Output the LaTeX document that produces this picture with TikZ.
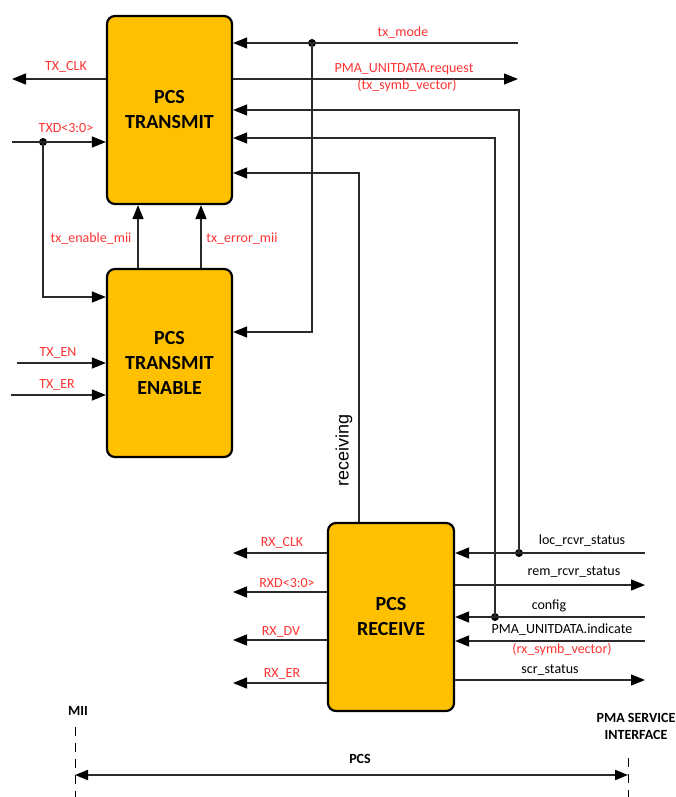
\documentclass[tikz,border=0pt]{standalone}
\usepackage{fontspec}
\setmainfont{Carlito}
\newfontfamily\arialf{Liberation Sans}
\usetikzlibrary{arrows.meta}
\definecolor{boxfill}{HTML}{FFC000}
\definecolor{sigred}{HTML}{FF3333}
\definecolor{wire}{HTML}{2A2A2A}
\begin{document}
\begin{tikzpicture}[x=1pt,y=-1pt,
  box/.style={draw=black, line width=2.2pt, fill=boxfill, rounded corners=8pt, align=center,
    font=\fontsize{20}{25}\selectfont\bfseries, inner sep=0pt},
  wireln/.style={draw=wire, line width=1.3pt},
  arr/.style={wireln, -{Triangle[length=14pt,width=11pt,color=black]}},
  rl/.style={text=sigred, font=\fontsize{14}{16}\selectfont, inner sep=0pt},
  bl/.style={text=black, font=\fontsize{14}{16}\selectfont, inner sep=0pt},
  hd/.style={text=black, font=\fontsize{14}{17}\selectfont\bfseries, inner sep=0pt, align=center},
  jdot/.style={circle, fill=black, inner sep=0pt, minimum size=8pt},
  dashln/.style={draw=black, line width=1pt, dash pattern=on 9pt off 7pt},
]
\useasboundingbox (0,0) rectangle (676,797);

% boxes
\node[box, minimum width=125pt, minimum height=188pt] (tx) at (169.5,110) {PCS\\TRANSMIT};
\node[box, minimum width=125pt, minimum height=188pt] (txe) at (169.5,363) {PCS\\TRANSMIT\\ENABLE};
\node[box, minimum width=126pt, minimum height=188pt] (rx) at (391,617) {PCS\\RECEIVE};

% tx_mode
\coordinate (txmodeR) at (518,43);
\node[jdot] (d1) at (312,43) {};
\coordinate (c332) at (312,332);
\draw[arr] (txmodeR) -- (tx.east |- txmodeR);
\draw[arr] (d1.center) -- (c332) -- (txe.east |- c332);
\node[rl] (ltxmode) at (403,33) {tx\_mode};

% TX_CLK
\coordinate (txclkL) at (12,79);
\draw[arr] (tx.west |- txclkL) -- (txclkL);
\node[rl] (ltxclk) at (66,67) {TX\_CLK};

% PMA_UNITDATA.request
\coordinate (pmareqR) at (518,79);
\draw[arr] (tx.east |- pmareqR) -- (pmareqR);
\node[rl] (lpmareq) at (404,69) {PMA\_UNITDATA.request};
\node[rl] (ltxsymb) at (407,86) {(tx\_symb\_vector)};

% loc_rcvr_status feedback
\coordinate (locR) at (645,553);
\node[jdot] (d2) at (519,553) {};
\coordinate (c110) at (519,110);
\draw[arr] (d2.center) -- (c110) -- (tx.east |- c110);

% config feedback
\coordinate (cfgR) at (645,617);
\node[jdot] (d3) at (495,617) {};
\coordinate (c138) at (495,138);
\draw[arr] (d3.center) -- (c138) -- (tx.east |- c138);

% receiving
\coordinate (c173) at (359,173);
\draw[arr] (rx.north -| c173) -- (c173) -- (tx.east |- c173);
\node[text=black, font=\arialf\fontsize{18}{20}\selectfont, rotate=90, inner sep=0pt] (lrecv) at (344,450) {receiving};

% TXD
\coordinate (txdL) at (12,142);
\node[jdot] (d4) at (43,142) {};
\coordinate (c297) at (43,297);
\draw[arr] (txdL) -- (tx.west |- txdL);
\draw[arr] (d4.center) -- (c297) -- (txe.west |- c297);
\node[rl] (ltxd) at (66,128) {TXD<3:0>};

% tx_enable_mii / tx_error_mii
\coordinate (enx) at (138,0);
\coordinate (erx) at (201,0);
\draw[arr] (txe.north -| enx) -- (tx.south -| enx);
\draw[arr] (txe.north -| erx) -- (tx.south -| erx);
\node[rl] (lenmii) at (91,239) {tx\_enable\_mii};
\node[rl] (lermii) at (242,239) {tx\_error\_mii};

% TX_EN, TX_ER
\coordinate (txenL) at (17,363);
\coordinate (txerL) at (11,395);
\draw[arr] (txenL) -- (txe.west |- txenL);
\draw[arr] (txerL) -- (txe.west |- txerL);
\node[rl] (ltxen) at (58,353) {TX\_EN};
\node[rl] (ltxer) at (57,385) {TX\_ER};

% RX outputs
\coordinate (rxclkL) at (233,553);
\coordinate (rxdL) at (233,592);
\coordinate (rxdvL) at (233,640);
\coordinate (rxerL) at (233,683);
\draw[arr] (rx.west |- rxclkL) -- (rxclkL);
\draw[arr] (rx.west |- rxdL) -- (rxdL);
\draw[arr] (rx.west |- rxdvL) -- (rxdvL);
\draw[arr] (rx.west |- rxerL) -- (rxerL);
\node[rl] (lrxclk) at (282,543) {RX\_CLK};
\node[rl] (lrxd) at (287,583) {RXD<3:0>};
\node[rl] (lrxdv) at (281,632) {RX\_DV};
\node[rl] (lrxer) at (282,674) {RX\_ER};

% RX right side
\coordinate (remR) at (645,585);
\coordinate (indR) at (645,641);
\coordinate (scrR) at (645,680);
\draw[arr] (locR) -- (rx.east |- locR);
\draw[arr] (rx.east |- remR) -- (remR);
\draw[arr] (cfgR) -- (rx.east |- cfgR);
\draw[arr] (indR) -- (rx.east |- indR);
\draw[arr] (rx.east |- scrR) -- (scrR);
\node[bl] (lloc) at (582,541) {loc\_rcvr\_status};
\node[bl] (lrem) at (574,572) {rem\_rcvr\_status};
\node[bl] (lcfg) at (549,606) {config};
\node[bl] (lind) at (562,630) {PMA\_UNITDATA.indicate};
\node[rl] (lrxsymb) at (562,649) {(rx\_symb\_vector)};
\node[bl] (lscr) at (550,670) {scr\_status};

% bottom
\coordinate (miiT) at (75,727);
\coordinate (miiB) at (75,797);
\coordinate (pmaT) at (628,758);
\coordinate (pmaB) at (628,797);
\coordinate (miiA) at (75,775);
\coordinate (pmaA) at (628,775);
\draw[dashln] (miiT) -- (miiB);
\draw[dashln] (pmaT) -- (pmaB);
\draw[draw=wire, line width=2pt, {Triangle[length=13pt,width=10pt,color=black]}-{Triangle[length=13pt,width=10pt,color=black]}] (miiA) -- (pmaA);
\node[hd] (lmii) at (78,711) {MII};
\node[hd] (lpma) at (636,726) {PMA SERVICE\\INTERFACE};
\node[hd] (lpcs) at (360,759) {PCS};
\end{tikzpicture}
\end{document}
